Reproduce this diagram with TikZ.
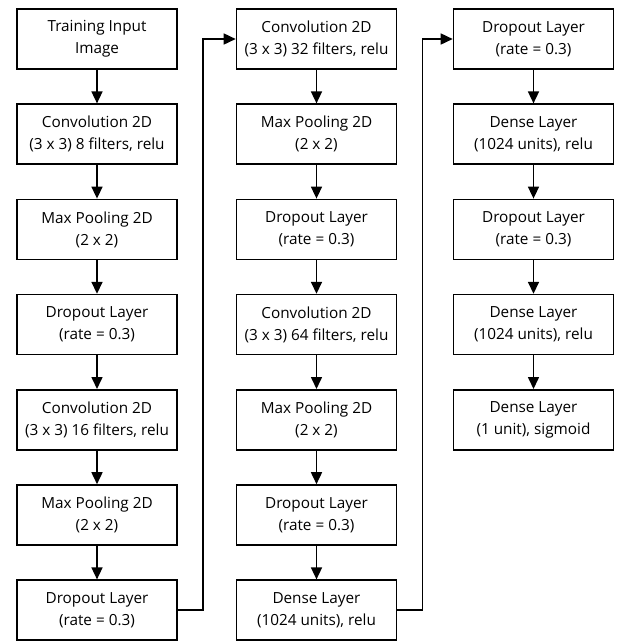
\documentclass[tikz,border=0pt]{standalone}
\usepackage{fontspec}
\setmainfont{Open Sans}
\usepackage{tikz}
\usetikzlibrary{arrows.meta}
\usetikzlibrary{positioning}

\begin{document}
\begin{tikzpicture}[x=1pt,y=1pt]
    \def\BOXW{160pt} %width of boxes
    \def\BOXH{60pt} %
    \def\GAP{33.6pt} %
    \def\JOG{25pt} %

    \tikzset{
      layer/.style={draw,line width=1.6pt,minimum width=\BOXW,
        minimum height=\BOXH,align=center,inner sep=2pt,
        font=\fontsize{15.3}{22}\selectfont},
      flow/.style={-{Triangle[width=11pt,length=12pt]},line width=1.6pt},
    }

    \useasboundingbox (0,0) rectangle (622,-641);

    % FIRST COLUMN
    \node[layer] (input) at (97,-39) {Training Input\\Image};
    \node[layer,below=\GAP of input] (conv1) {Convolution 2D\\(3 x 3) 8 filters, relu};
    \node[layer,below=\GAP of conv1] (pool1) {Max Pooling 2D\\(2 x 2)};
    \node[layer,below=\GAP of pool1] (drop1) {Dropout Layer\\(rate = 0.3)};
    \node[layer,below=\GAP of drop1] (conv2) {Convolution 2D\\(3 x 3) 16 filters, relu};
    \node[layer,below=\GAP of conv2] (pool2) {Max Pooling 2D\\(2 x 2)};
    \node[layer,below=\GAP of pool2] (drop2) {Dropout Layer\\(rate = 0.3)};

    % SECOND COLUMN
    \node[layer] (conv3) at (316.5,-39) {Convolution 2D\\(3 x 3) 32 filters, relu};
    \node[layer,below=\GAP of conv3] (pool3) {Max Pooling 2D\\(2 x 2)};
    \node[layer,below=\GAP of pool3] (drop3) {Dropout Layer\\(rate = 0.3)};
    \node[layer,below=\GAP of drop3] (conv4) {Convolution 2D\\(3 x 3) 64 filters, relu};
    \node[layer,below=\GAP of conv4] (pool4) {Max Pooling 2D\\(2 x 2)};
    \node[layer,below=\GAP of pool4] (drop4) {Dropout Layer\\(rate = 0.3)};
    \node[layer,below=\GAP of drop4] (dense1) {Dense Layer\\(1024 units), relu};

    % THIRD COLUMN
    \node[layer] (drop5) at (533.5,-39) {Dropout Layer\\(rate = 0.3)};
    \node[layer,below=\GAP of drop5] (dense2) {Dense Layer\\(1024 units), relu};
    \node[layer,below=\GAP of dense2] (drop6) {Dropout Layer\\(rate = 0.3)};
    \node[layer,below=\GAP of drop6] (dense3) {Dense Layer\\(1024 units), relu};
    \node[layer,below=\GAP of dense3] (out) {Dense Layer\\(1 unit), sigmoid};

    % ARROWS
    \foreach \a/\b in {input/conv1,conv1/pool1,pool1/drop1,drop1/conv2,
        conv2/pool2,pool2/drop2,conv3/pool3,pool3/drop3,drop3/conv4,
        conv4/pool4,pool4/drop4,drop4/dense1,drop5/dense2,dense2/drop6,
        drop6/dense3,dense3/out}
      \draw[flow] (\a) -- (\b);

    % JUMPS BETWEEN COLUMNS
    \draw[flow] (drop2.east) -- ++(\JOG,0) |- (conv3.west);
    \draw[flow] (dense1.east) -- ++(\JOG,0) |- (drop5.west);

\end{tikzpicture}
\end{document}
